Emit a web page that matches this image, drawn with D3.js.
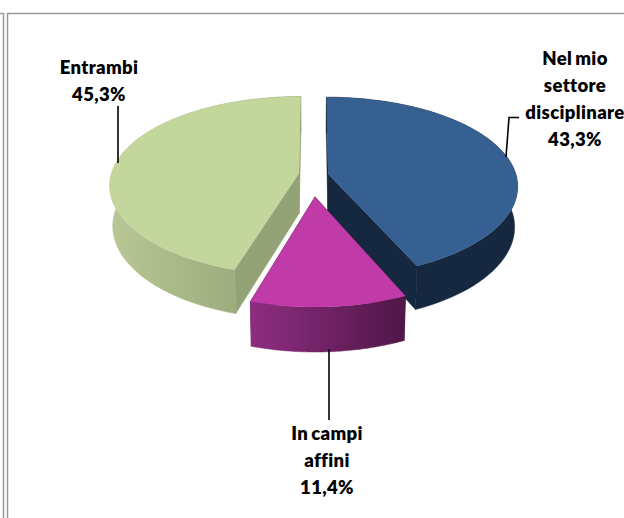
<!DOCTYPE html>
<html><head><meta charset="utf-8">
<script src="https://cdnjs.cloudflare.com/ajax/libs/d3/7.8.5/d3.min.js"></script>
<style>html,body{margin:0;padding:0;background:#fff}svg{display:block}</style></head>
<body><svg id="c" width="624" height="518"></svg>
<script>
const categories = ["Nel mio settore disciplinare", "In campi affini", "Entrambi"];
const shares = [43.3, 11.4, 45.3];
const shareLabels = ["43,3%", "11,4%", "45,3%"];
const labelLines = [["Nel mio","settore","disciplinare"],["In campi","affini"],["Entrambi"]];
const topColors = ["#376092", "#c03ba8", "#c3d69b"];
const edgeColors = ["#15283f", "#4f1748", "#93a377"];
const wallFrom = ["#15283f", "#8f2d80", "#b8c795"];
const wallTo = ["#15283f", "#4f1748", "#8f9f70"];

const svg = d3.select("#c");
const cx = 314, cy = 175, R = 188, Ry = 88, kx = 0.13, ky = 0.14, depth = 40;
const explode = [[0.075,-0.01],[0.005,0.24],[-0.08,-0.02]];
const project = (u,v)=>[cx + R*u/(1-kx*v), cy + Ry*v/(1-ky*v)];
const lower = (p,v)=>[cx + (p[0]-cx)*0.985, p[1] + depth*(1+0.1*v)];

const arcs = d3.pie().sort(null).value(d=>d)(shares);
const line = d3.line();
const defs = svg.append("defs");

// frame
const frame = svg.append("g").attr("fill","none").attr("stroke","#9a9a9a").attr("stroke-width",1.5);
frame.append("path").attr("d","M0,13.5H3.5V518");
frame.append("path").attr("d","M7.5,518V13.5H624");

const order = [2,0,1];
order.forEach(i=>{
  const a = arcs[i], [ex,ey] = explode[i];
  const angle = d3.scaleLinear().domain([0,60]).range([a.startAngle,a.endAngle]);
  const disk = d3.range(61).map(t=>{const th=angle(t);return [ex+Math.sin(th), ey-Math.cos(th)];});
  const rim = disk.map(d=>project(d[0],d[1]));
  const rimLow = disk.map((d,j)=>lower(rim[j],d[1]));
  const apex = project(ex,ey), apexLow = lower(apex,ey);
  // radial walls
  [0,60].forEach(j=>{
    svg.append("path").attr("d",line([apex,rim[j],rimLow[j],apexLow])+"Z").attr("fill",edgeColors[i])
      .attr("stroke",edgeColors[i]).attr("stroke-width",0.5);
  });
  // outer wall gradient
  const xs = rim.map(p=>p[0]);
  const g = defs.append("linearGradient").attr("id","w"+i).attr("gradientUnits","userSpaceOnUse")
    .attr("x1",d3.min(xs)).attr("x2",d3.max(xs)).attr("y1",0).attr("y2",0);
  g.append("stop").attr("offset",0).attr("stop-color",wallFrom[i]);
  g.append("stop").attr("offset",1).attr("stop-color",wallTo[i]);
  svg.append("path").attr("d",line(rim.concat(rimLow.slice().reverse()))+"Z").attr("fill",`url(#w${i})`)
    .attr("stroke",`url(#w${i})`).attr("stroke-width",0.5);
  // top surface
  svg.append("path").attr("d",line([apex].concat(rim))+"Z").attr("fill",topColors[i]);
});

// leaders
const leaders = svg.append("g").attr("fill","none").attr("stroke","#000").attr("stroke-width",1.6);
leaders.append("path").attr("d","M118,106V163");
leaders.append("path").attr("d","M506,157L509,117.5H519");
leaders.append("path").attr("d","M329,349V420");

// labels
const labelAnchor = [[575,65],[327,440],[99,74]];
arcs.forEach((a,i)=>{
  const lines = labelLines[i].concat([shareLabels[i]]);
  const t = svg.append("text").attr("text-anchor","middle")
    .attr("font-family","Lato, Carlito, sans-serif").attr("font-weight",800).attr("font-size",18.5)
    .attr("letter-spacing",0.35).attr("word-spacing",-1.5).attr("fill","#000");
  lines.forEach((s,k)=>t.append("tspan").attr("x",labelAnchor[i][0]).attr("y",labelAnchor[i][1]+k*27).text(s));
});
</script></body></html>
